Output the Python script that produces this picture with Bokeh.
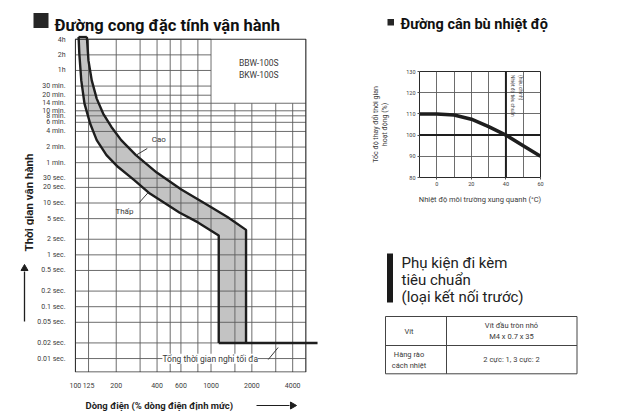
import math
from bokeh.plotting import figure
from bokeh.models import Range1d, FixedTicker, Label, Span
from bokeh.layouts import row, column
from bokeh.core.properties import value
from bokeh.embed import file_html
from bokeh.resources import INLINE

FONT = "Roboto"
INK = "#1e1e1e"
GRID = "#5c5c5c"
TXT = "#3a3a3a"

# ---------------- data: operating characteristic curve ----------------
current_ticks = [100, 125, 200, 400, 600, 1000, 2000, 4000]
current_tick_labels = ["100", "125", "200", "400", "600", "1000", "2000", "4000"]
current_grid = [125, 200, 300, 400, 500, 600, 800, 1000, 1500, 2000, 3000, 4000]
time_ticks = [14400, 7200, 3600, 1800, 1200, 840, 600, 480, 360, 240, 120, 60,
              30, 20, 10, 5, 2, 1, 0.5, 0.2, 0.1, 0.05, 0.02, 0.01]
time_tick_labels = ["4h", "2h", "1h", "30 min.", "20 min.", "14 min.", "10 min.",
                    "8 min.", "6 min.", "4 min.", "2 min.", "1 min.", "30 sec.",
                    "20 sec.", "10 sec.", "5 sec.", "2 sec.", "1 sec.", "0.5 sec.",
                    "0.2 sec.", "0.1 sec.", "0.05 sec.", "0.02 sec.", "0.01 sec."]

# upper limit curve ("Cao"): current in % of rating, time in seconds
cao_current = [121.5, 124.8, 132.0, 143.6, 160.2, 184.3, 217.6, 279.3, 398, 604,
               915, 1321, 1812, 1812, 6100]
cao_time = [16000, 5623, 2318, 1031, 531, 293, 163, 83.8, 38.6, 18.2,
            9.57, 5.38, 3.03, 0.02, 0.02]
# lower limit curve ("Thấp")
thap_current = [105.6, 106.9, 110.5, 116.7, 128.4, 143.6, 169.5, 205.6, 271.6, 354,
                584, 801, 1140, 1140]
thap_time = [16000, 7568, 2318, 826, 341, 163, 83.8, 49.9, 27.7, 15.2,
             6.57, 4.22, 2.37, 0.02]

# ---------------- data: temperature compensation curve ----------------
temperature = [-10, 0, 10, 20, 30, 40, 50, 60]
rate_change = [110, 110, 109.5, 107.5, 104, 100, 95, 90]
temp_ticks = [0, 20, 40, 60]
temp_grid = [0, 10, 20, 30, 50]
rate_ticks = [80, 90, 100, 110, 120, 130]
rate_grid = [90, 110, 120]
reference_temp = 40
reference_rate = 100

# ---------------- texts ----------------
title_left = "Đường cong đặc tính vận hành"
title_right = "Đường cân bù nhiệt độ"
y_title_left = "Thời gian vận hành"
x_title_left = "Dòng điện (% dòng điện định mức)"
accessory_heading = ["Phụ kiện đi kèm", "tiêu chuẩn", "(loại kết nối trước)"]
table_items = ["Vít", "Hàng rào\ncách nhiệt"]
table_values = ["Vít đầu tròn nhỏ\nM4 x 0.7 x 35", "2 cực: 1, 3 cực: 2"]

H = 416  # page height; decoration strips use x = page x, y = H - page y


def strip(width, height, x0, y_top):
    f = figure(width=width, height=height,
               x_range=Range1d(x0, x0 + width),
               y_range=Range1d(H - (y_top + height), H - y_top),
               output_backend="svg", toolbar_location=None, min_border=0,
               x_axis_location=None, y_axis_location=None)
    f.outline_line_color = None
    f.grid.visible = False
    f.background_fill_color = "white"
    return f


def lab(fig, x, y, text, size="8px", **kw):
    opts = dict(x=x, y=y, text=text, text_font=FONT, text_font_size=size,
                text_color=TXT, text_align="center", text_baseline="middle")
    opts.update(kw)
    fig.add_layout(Label(**opts))


TOP_H = 35

# =====================================================================
# top strip with both section titles
top = strip(620, TOP_H, 0, 0)
top.quad(left=[33], right=[48], bottom=[H - 27.5], top=[H - 12.5], fill_color="#262626",
         line_color=None)
top.text(x=[54], y=[H - 24.5], text=[title_left], text_font=value(FONT),
         text_font_size="16.5px", text_font_style="bold", text_color="#111111",
         text_baseline="alphabetic", text_align="left")
top.quad(left=[387], right=[393.5], bottom=[H - 25], top=[H - 18.5], fill_color="#262626",
         line_color=None)
top.text(x=[400], y=[H - 24], text=[title_right], text_font=value(FONT),
         text_font_size="14.5px", text_font_style="bold", text_color="#111111",
         text_baseline="alphabetic", text_align="left")

# =====================================================================
# left y title strip
ys = strip(34, 390 - TOP_H, 0, TOP_H)
ys.text(x=[28], y=[H - 202], text=[y_title_left], angle=math.pi / 2,
        text_font=value(FONT), text_font_size="11.5px", text_font_style="bold",
        text_color=INK, text_align="center", text_baseline="middle")
ys.segment([24], [H - 321], [24], [H - 271], line_color=INK, line_width=1.3)
ys.scatter([24], [H - 268], marker="triangle", size=7, fill_color=INK,
           line_color=INK)

# =====================================================================
# Left chart
FRAME_L, FRAME_R = 100, 5000
FRAME_B, FRAME_T = 0.0055, 14400
BOX_X, BOX_T = 1000, 840

p = figure(width=334, height=390 - TOP_H, x_axis_type="log", y_axis_type="log",
           x_range=Range1d(98.5, 6200), y_range=Range1d(0.00538, 17011),
           output_backend="svg", toolbar_location=None,
           min_border_left=36, min_border_right=50, min_border_top=0,
           min_border_bottom=17)
p.outline_line_color = None
p.grid.visible = False
p.background_fill_color = "white"

for ax in (p.xaxis, p.yaxis):
    ax.axis_line_color = None
    ax.major_tick_line_color = None
    ax.minor_tick_line_color = None
    ax.major_label_text_font = FONT
    ax.major_label_text_color = TXT

p.xaxis.ticker = FixedTicker(ticks=current_ticks)
p.xaxis.major_label_overrides = dict(zip(current_ticks, current_tick_labels))
p.xaxis.major_label_text_font_size = "7px"
p.xaxis.major_label_standoff = 4

p.yaxis.ticker = FixedTicker(ticks=time_ticks)
p.yaxis.major_label_overrides = dict(zip(time_ticks, time_tick_labels))
p.yaxis.major_label_text_font_size = "7px"
p.yaxis.major_label_standoff = 3

# band between the two limit curves
band_x = cao_current[:-1] + thap_current[::-1]
band_y = cao_time[:-1] + thap_time[::-1]
p.patch(band_x, band_y, fill_color="#c3c3c3", line_color=None)

# grid (upper right corner kept free for the model label)
hx0 = [FRAME_L for t in time_ticks]
hx1 = [FRAME_R if t <= BOX_T else BOX_X for t in time_ticks]
p.segment(hx0, time_ticks, hx1, time_ticks, line_color=GRID, line_width=0.9)
vy0 = [FRAME_B for c in current_grid]
vy1 = [FRAME_T if c <= BOX_X else BOX_T for c in current_grid]
p.segment(current_grid, vy0, current_grid, vy1, line_color=GRID, line_width=0.9)
p.quad(left=[FRAME_L], right=[FRAME_R], bottom=[FRAME_B], top=[FRAME_T],
       fill_color=None, line_color="#333333", line_width=1.2)

# curves
p.line(cao_current, cao_time, line_color=INK, line_width=2.4)
p.line(thap_current, thap_time, line_color=INK, line_width=2.4)
p.line([thap_current[0], cao_current[0]], [thap_time[0], cao_time[0]],
       line_color=INK, line_width=2.4)
p.line([thap_current[-1], cao_current[-2]], [thap_time[-1], cao_time[-2]],
       line_color=INK, line_width=2.4)

lab(p, 412, 170, "Cao")
lab(p, 230, 7.0, "Thấp")
lab(p, 2250, 4920, "BBW-100S", size="8.5px")
lab(p, 2250, 2894, "BKW-100S", size="8.5px")
lab(p, 986, 0.00987, "Tổng thời gian nghỉ tối đa", size="8.5px",
    background_fill_color="white")
p.segment([339], [112.7], [281], [84], line_color=TXT, line_width=1)
p.segment([295], [10.1], [345], [16], line_color=TXT, line_width=1)
p.segment([2642], [0.00957], [3124], [0.0163], line_color=TXT, line_width=1)

# =====================================================================
# bottom strip with the x title of the left chart
bl = strip(368, 26, 0, 390)
bl.text(x=[85], y=[H - 405], text=[x_title_left], text_font=value(FONT),
        text_font_size="9.5px", text_font_style="bold", text_color=INK,
        text_align="left", text_baseline="middle")
bl.segment([256], [H - 405], [289], [H - 405], line_color=INK, line_width=1.2)
bl.scatter([292], [H - 405], marker="triangle", size=7, angle=-math.pi / 2,
           fill_color=INK, line_color=INK)

# =====================================================================
# Right chart: temperature compensation
q = figure(width=252, height=215 - TOP_H, x_range=Range1d(-10, 60),
           y_range=Range1d(80, 130),
           output_backend="svg", toolbar_location=None,
           min_border_left=49, min_border_right=80, min_border_top=71 - TOP_H,
           min_border_bottom=38)
q.background_fill_color = "white"
q.outline_line_color = "#2a2a2a"
q.outline_line_width = 1
q.xgrid.ticker = FixedTicker(ticks=temp_grid)
q.ygrid.ticker = FixedTicker(ticks=rate_grid)
q.grid.grid_line_color = GRID
q.grid.grid_line_width = 0.9
q.xaxis.ticker = FixedTicker(ticks=temp_ticks)
q.yaxis.ticker = FixedTicker(ticks=rate_ticks)
for ax in (q.xaxis, q.yaxis):
    ax.axis_line_color = None
    ax.major_tick_line_color = "#555555"
    ax.major_tick_out = 2
    ax.major_tick_in = 0
    ax.minor_tick_line_color = None
    ax.major_label_text_font = FONT
    ax.major_label_text_font_size = "5.5px"
    ax.major_label_text_color = TXT
    ax.major_label_standoff = 2
    ax.axis_label_text_font = FONT
    ax.axis_label_text_font_style = "normal"
    ax.axis_label_text_color = TXT
q.xaxis.axis_label = "Nhiệt độ môi trường xung quanh (°C)"
q.xaxis.axis_label_text_font_size = "7.5px"
q.xaxis.axis_label_standoff = 6
q.yaxis.axis_label = "Tốc độ thay đổi thời gian\nhoạt động (%)"
q.yaxis.axis_label_text_font_size = "7px"
q.yaxis.axis_label_standoff = 14

q.add_layout(Span(location=reference_temp, dimension="height", line_color=INK,
                  line_width=2))
q.add_layout(Span(location=reference_rate, dimension="width", line_color=INK,
                  line_width=2))
q.line(temperature, rate_change, line_color=INK, line_width=3.5)
lab(q, 43.9, 128.3, "Nhiệt độ tiêu chuẩn", size="4.8px", angle=-math.pi / 2,
    text_align="left")
lab(q, 48.4, 128.3, "(hiệu chỉnh)", size="4.8px", angle=-math.pi / 2,
    text_align="left")

# =====================================================================
# Right bottom: accessories text and table
r = strip(252, 201, 368, 215)
r.quad(left=[386.5], right=[392.5], top=[H - 253], bottom=[H - 302],
       fill_color="#1a1a1a", line_color=None)
r.text(x=[401, 401, 401], y=[H - 262, H - 279, H - 296], text=accessory_heading,
       text_font=value(FONT), text_font_size="15px", text_color="#222222",
       text_baseline="alphabetic", text_align="left")
r.quad(left=[385], right=[576.5], top=[H - 316], bottom=[H - 373.3], fill_color=None,
       line_color="#444444", line_width=1)
r.segment([385, 446], [H - 345, H - 316], [576.5, 446], [H - 345, H - 373.3],
          line_color="#444444", line_width=1)
r.text(x=[408.5, 408.5], y=[H - 330.5, H - 359.2], text=table_items,
       text_font=value(FONT), text_font_size="7.5px", text_color=TXT,
       text_align="center", text_baseline="middle", text_line_height=1.2)
r.text(x=[511, 511], y=[H - 330.5, H - 359.2], text=table_values,
       text_font=value(FONT), text_font_size="7.5px", text_color=TXT,
       text_align="center", text_baseline="middle", text_line_height=1.2)

# =====================================================================
left_block = column(row(row(ys), row(p)), row(bl))
right_block = column(row(q), row(r))
layout = column(row(top), row(left_block, right_block))
open("out.html", "w").write(file_html(layout, INLINE))
